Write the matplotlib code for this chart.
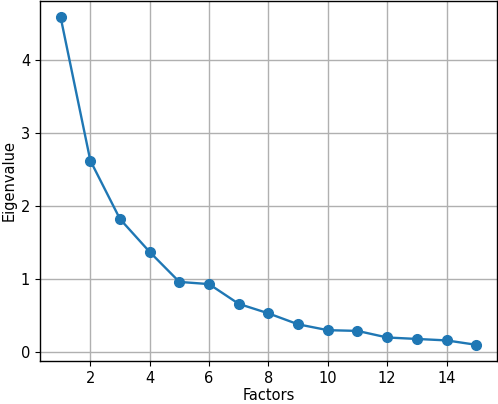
import matplotlib
matplotlib.use("Agg")
import matplotlib.pyplot as plt

factors = list(range(1, 16))
eigenvalues = [4.58, 2.62, 1.82, 1.37, 0.96, 0.93, 0.66, 0.53, 0.38, 0.30, 0.29, 0.20, 0.18, 0.16, 0.10]

plt.rcParams['font.size'] = 10.5
fig = plt.figure(figsize=(4.98, 4.04), dpi=100)
ax = fig.add_axes([0.080, 0.106, 0.918, 0.892])
ax.plot(factors, eigenvalues, 'o-', color='#1f77b4', markersize=7, linewidth=1.7)
ax.set_xlabel('Factors', labelpad=1.5)
ax.set_ylabel('Eigenvalue', labelpad=3)
ax.grid(True, linewidth=1.0)
for s in ax.spines.values():
    s.set_linewidth(1.0)
fig.savefig('out.png', dpi=100)
